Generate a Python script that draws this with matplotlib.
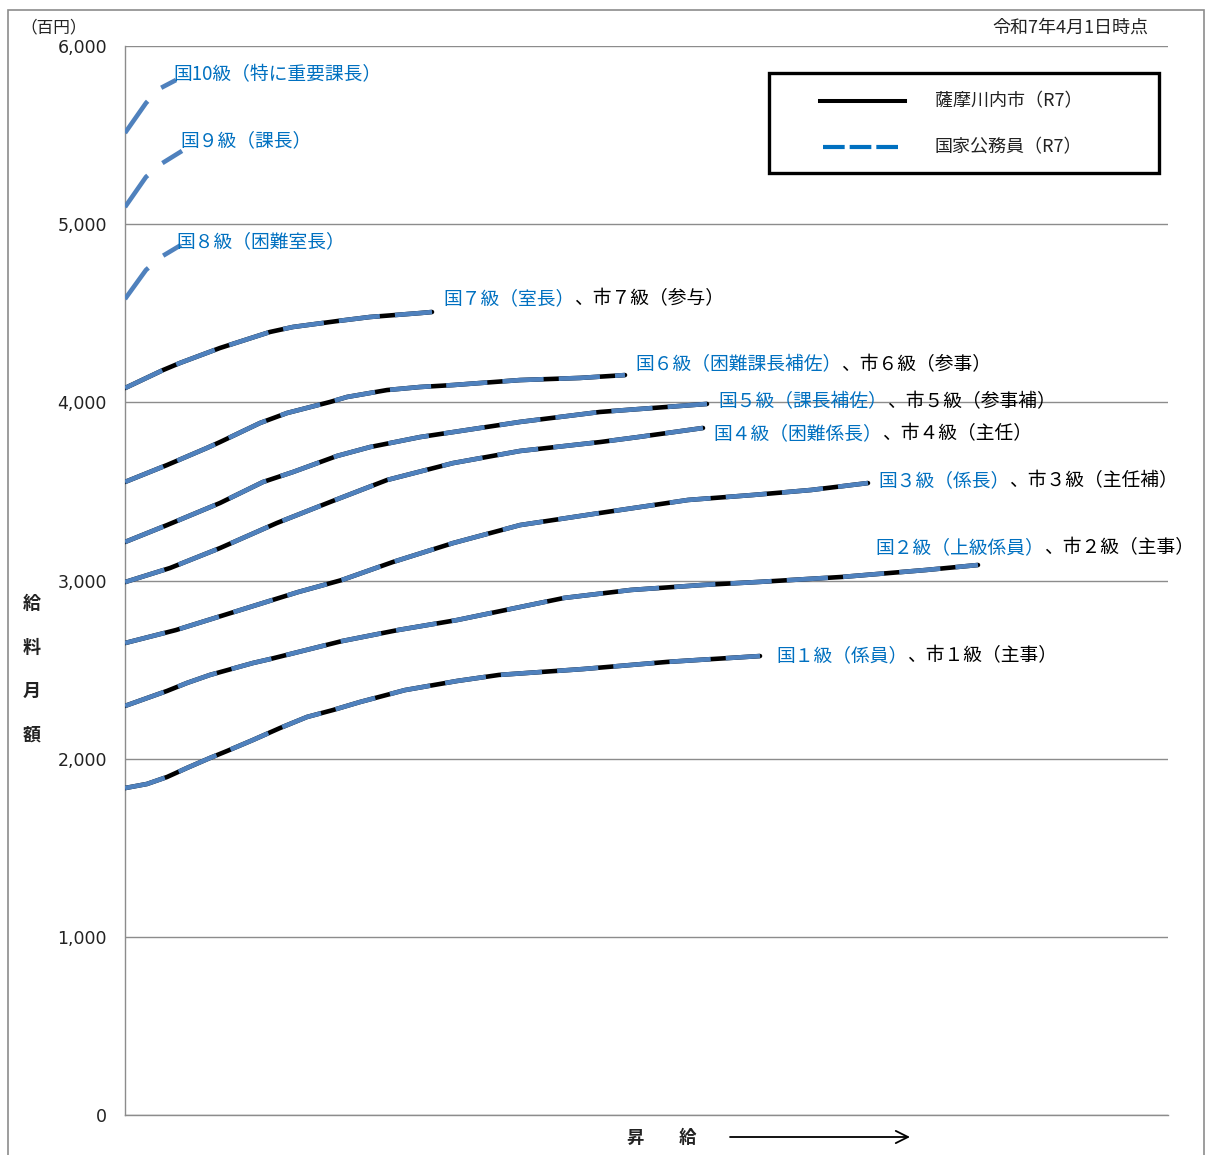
import matplotlib
matplotlib.use("Agg")
import matplotlib.pyplot as plt
from matplotlib.patches import Rectangle
from matplotlib.lines import Line2D

plt.rcParams['font.family'] = ['Noto Sans CJK JP', 'DejaVu Sans']

# ---------------- data (x = 昇給 steps, y = 給料月額 in 百円) ----------------
g1_x = [0, 2.2, 4.2, 6.2, 8.5, 10.2, 12.8, 15.5, 18.2, 20.8, 23.5, 28.0, 33.2, 37.4,
        45.8, 54.2, 63.5]
g1_y = [1835, 1858, 1897, 1948, 2004, 2043, 2105, 2172, 2234, 2273, 2318, 2385, 2436, 2470,
        2503, 2543, 2576]

g2_x = [0, 2.2, 4.2, 6.2, 8.5, 12.8, 14.5, 21.7, 27.3, 33.2, 43.9, 50.6, 57.8, 63.4,
        71.7, 80.1, 85.3]
g2_y = [2296, 2340, 2380, 2425, 2470, 2537, 2559, 2660, 2722, 2778, 2902, 2947, 2975,
        2992, 3020, 3059, 3087]

g3_x = [0, 5.1, 10.6, 17.3, 21.7, 26.8, 32.8, 39.5, 47.5, 56.3, 62.8, 68.6, 74.3]
g3_y = [2649, 2722, 2818, 2935, 3003, 3104, 3210, 3311, 3379, 3452, 3480, 3508, 3547]

g4_x = [0, 4.5, 9.5, 15.2, 20.8, 26.2, 32.8, 39.5, 47.5, 51.3, 57.8]
g4_y = [2991, 3070, 3182, 3323, 3447, 3564, 3659, 3727, 3777, 3805, 3856]

g5_x = [0, 4.2, 9.5, 13.8, 16.8, 21.2, 24.5, 29.5, 32.8, 39.5, 47.5, 51.3, 58.2]
g5_y = [3216, 3311, 3435, 3553, 3609, 3699, 3749, 3805, 3833, 3890, 3946, 3962, 3991]

g6_x = [0, 4.2, 8.2, 9.5, 13.5, 16.2, 20.5, 22.2, 26.2, 29.5, 32.8, 39.5, 45.5, 50.0]
g6_y = [3553, 3648, 3744, 3777, 3884, 3940, 4002, 4030, 4069, 4086, 4097, 4125, 4137, 4153]

g7_x = [0, 3.8, 5.5, 9.5, 14.5, 16.8, 21.2, 24.5, 29.5, 30.7]
g7_y = [4080, 4181, 4221, 4305, 4395, 4423, 4456, 4479, 4501, 4507]

g8_x = [0, 2.1, 3.6, 5.6]
g8_y = [4580, 4743, 4816, 4883]

g9_x = [0, 2.1, 3.6, 5.7]
g9_y = [5096, 5265, 5338, 5411]

g10_x = [0, 2.1, 3.4, 5.1]
g10_y = [5512, 5680, 5759, 5809]

city_series = [(g1_x, g1_y), (g2_x, g2_y), (g3_x, g3_y), (g4_x, g4_y),
               (g5_x, g5_y), (g6_x, g6_y), (g7_x, g7_y)]
nat_series = city_series + [(g8_x, g8_y), (g9_x, g9_y), (g10_x, g10_y)]

nat_labels = ['国１級（係員）', '国２級（上級係員）', '国３級（係長）', '国４級（困難係長）',
              '国５級（課長補佐）', '国６級（困難課長補佐）', '国７級（室長）',
              '国８級（困難室長）', '国９級（課長）', '国10級（特に重要課長）']
city_labels = ['、市１級（主事）', '、市２級（主事）', '、市３級（主任補）', '、市４級（主任）',
               '、市５級（参事補）', '、市６級（参事）', '、市７級（参与）', '', '', '']

y_ticks = [0, 1000, 2000, 3000, 4000, 5000, 6000]
y_tick_labels = ['0', '1,000', '2,000', '3,000', '4,000', '5,000', '6,000']

legend_labels = ['薩摩川内市（R7）', '国家公務員（R7）']

# label anchor positions (layout)
label_pos = [(65.1, 2577), (75.0, 3184), (75.3, 3560), (58.8, 3823), (59.3, 4003),
             (51.0, 4211), (31.8, 4581), (5.1, 4901), (5.5, 5468), (4.8, 5838)]

# ---------------- styles ----------------
W, H = 1206, 1155
CURVE_BLUE = '#4F81BD'
TEXT_BLUE = '#0070C0'
LW = 3.3
LABEL_FS = 13.5

fig = plt.figure(figsize=(W / 100, H / 100), dpi=100)
ax = fig.add_axes([125 / W, 1 - 1115 / H, 1043 / W, 1069 / H])

ax.set_xlim(0, 104.3)
ax.set_ylim(0, 6000)
ax.set_xticks([])
ax.set_yticks(y_ticks)
ax.set_yticklabels(y_tick_labels, fontfamily='DejaVu Sans', fontsize=12.5, color='#222222')
ax.tick_params(axis='y', length=0, pad=13)
ax.grid(axis='y', color='#8c8c8c', lw=1.0)
ax.set_axisbelow(True)
for s in ['top', 'right']:
    ax.spines[s].set_visible(False)
for s in ['left', 'bottom']:
    ax.spines[s].set_color('#8c8c8c')
    ax.spines[s].set_linewidth(1.0)

for x, y in city_series:
    ax.plot(x, y, color='black', lw=LW, solid_capstyle='round',
            solid_joinstyle='round', zorder=3)
for i, (x, y) in enumerate(nat_series):
    ln, = ax.plot(x, y, color=CURVE_BLUE, lw=LW, zorder=4, dash_capstyle='butt',
                  dash_joinstyle='round')
    if i < 7:
        ln.set_dashes((9, 3.3))
    else:
        ln.set_dashes((8.5, 4.2))

for (lx, ly), nl, cl in zip(label_pos, nat_labels, city_labels):
    t1 = ax.text(lx, ly, nl, color=TEXT_BLUE, fontsize=LABEL_FS, ha='left', va='center',
                 zorder=5)
    if cl:
        ax.annotate(cl, xy=(1, 0.5), xycoords=t1, color='black', fontsize=LABEL_FS,
                    ha='left', va='center', zorder=5)

# legend (manual, in axes fraction)
ax.add_patch(Rectangle((0.6175, 0.8812), 0.9914 - 0.6175, 0.9747 - 0.8812,
                       transform=ax.transAxes, fill=True, facecolor='white',
                       edgecolor='black', lw=2.4, zorder=6, clip_on=False))
ax.add_line(Line2D([0.6663, 0.7478], [0.9485, 0.9485], transform=ax.transAxes,
                   color='black', lw=2.9, zorder=7))
leg_dash = Line2D([0.6692, 0.7430], [0.9055, 0.9055], transform=ax.transAxes,
                  color=TEXT_BLUE, lw=3.0, zorder=7)
leg_dash.set_dashes((5.2, 1.2))
ax.add_line(leg_dash)
ax.text(0.7766, 0.9485, legend_labels[0], transform=ax.transAxes, fontsize=13,
        ha='left', va='center', color='#222222', zorder=8)
ax.text(0.7766, 0.9055, legend_labels[1], transform=ax.transAxes, fontsize=13,
        ha='left', va='center', color='#222222', zorder=8)

# figure texts
fig.text(20 / W, 1 - 28 / H, '（百円）', fontsize=12, ha='left', va='center', color='#222222')
fig.text(1148 / W, 1 - 28 / H, '令和7年4月1日時点', fontsize=13, ha='right', va='center',
         color='#222222')
for i, ch in enumerate('給料月額'):
    fig.text(32 / W, 1 - (603 + 44 * i) / H, ch, fontsize=13, ha='center', va='center',
             fontweight='bold', color='#222222')
fig.text(627 / W, 1 - 1138 / H, '昇　　給', fontsize=12.5, ha='left', va='center',
         fontweight='bold', color='#222222')
ax.annotate('', xy=(910 / W, 1 - 1137 / H), xytext=(730 / W, 1 - 1137 / H),
            xycoords='figure fraction', textcoords='figure fraction',
            arrowprops=dict(arrowstyle='->', lw=1.3, color='black', mutation_scale=22,
                            shrinkA=0, shrinkB=0))

# outer border
fig.patches.append(Rectangle((8 / W, -0.01), (1204 - 8) / W, 1 - 10 / H + 0.01,
                             transform=fig.transFigure, fill=False,
                             edgecolor='#8c8c8c', lw=1.2))

fig.savefig('out.png', dpi=100)
